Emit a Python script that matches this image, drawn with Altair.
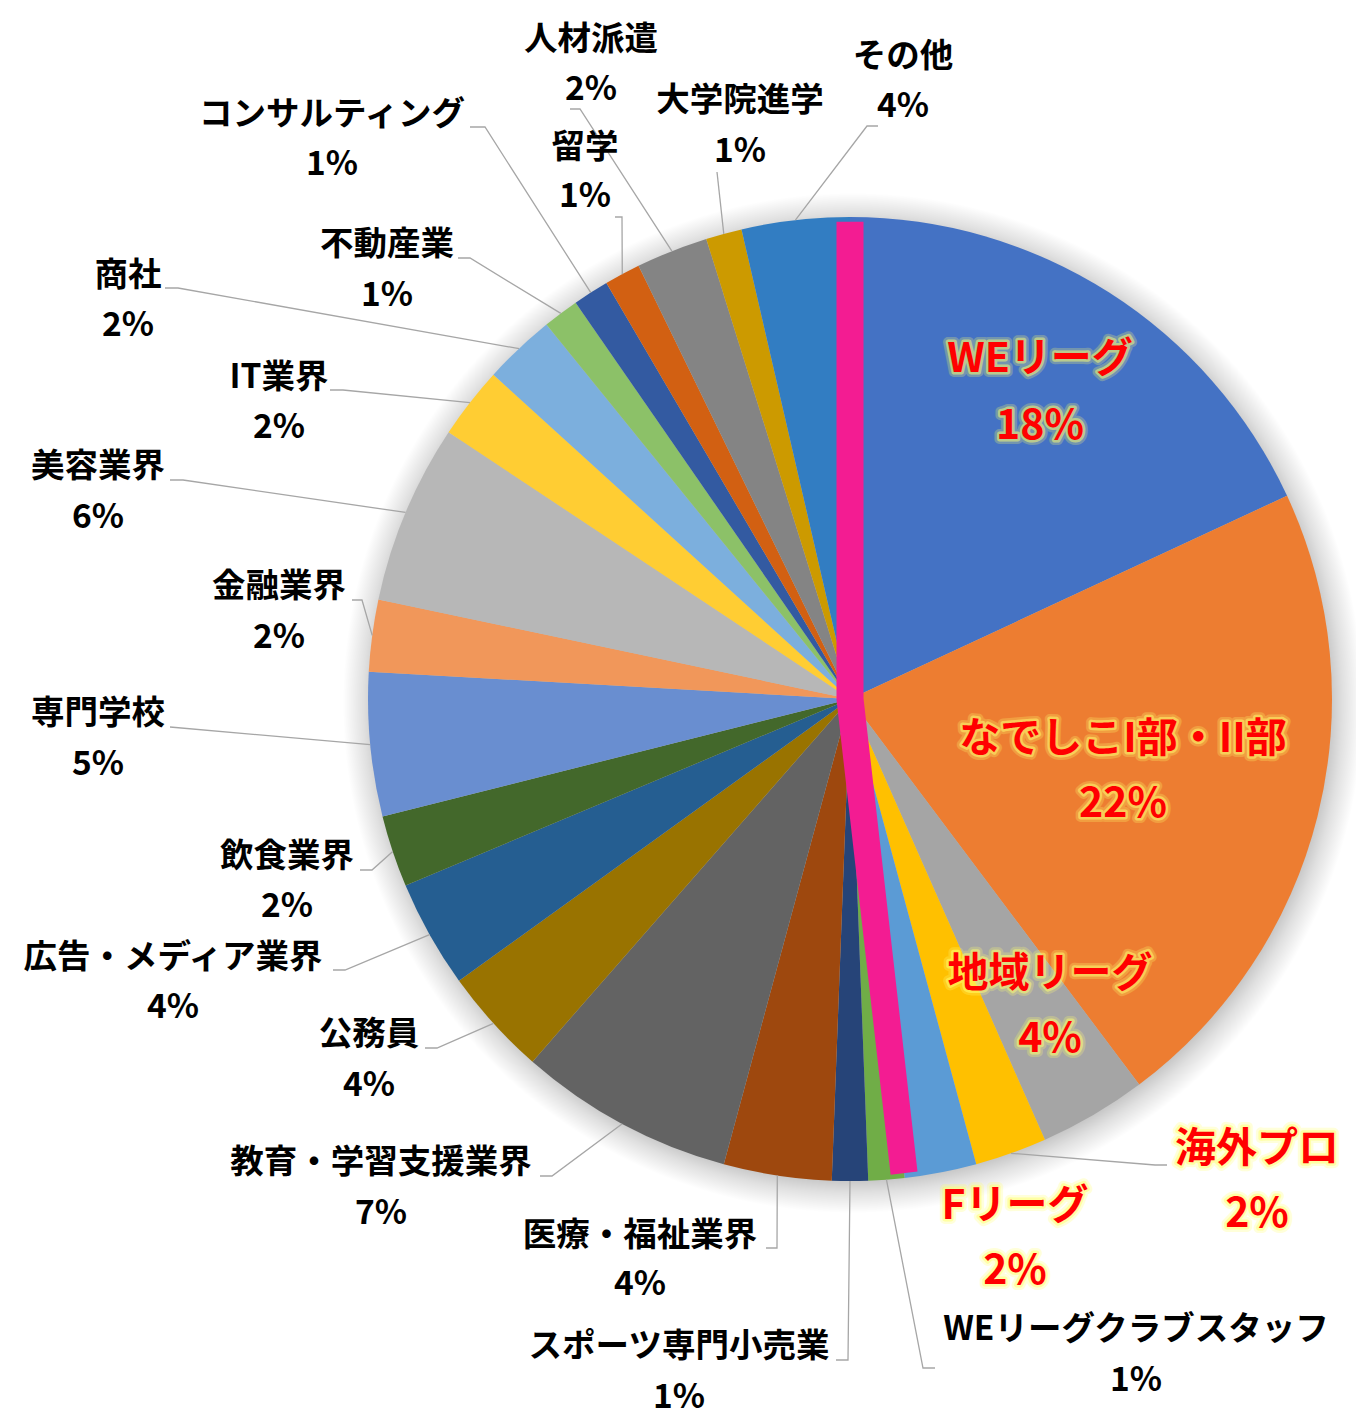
import math
import altair as alt
import pandas as pd

# ---- data: career paths (number of people) in clockwise order from 12 o'clock ----
categories = [
    "WEリーグ", "なでしこI部・II部", "地域リーグ", "海外プロ", "Fリーグ",
    "WEリーグクラブスタッフ", "スポーツ専門小売業", "医療・福祉業界", "教育・学習支援業界",
    "公務員", "広告・メディア業界", "飲食業界", "専門学校", "金融業界", "美容業界",
    "IT業界", "商社", "不動産業", "コンサルティング", "留学", "人材派遣", "大学院進学", "その他",
]
counts = [15, 18, 3, 2, 2, 1, 1, 3, 6, 3, 3, 2, 4, 2, 5, 2, 2, 1, 1, 1, 2, 1, 3]
colors = [
    "#4472C4", "#ED7D31", "#A5A5A5", "#FFC000", "#5B9BD5", "#70AD47",
    "#264478", "#9E480E", "#636363", "#997300", "#255E91", "#43682B",
    "#698ED0", "#F1975A", "#B7B7B7", "#FFCD33", "#7CAFDD", "#8CC168",
    "#335AA1", "#D26012", "#848484", "#CC9A00", "#327DC2",
]
# categories whose labels are emphasised in red
highlighted = ["WEリーグ", "なでしこI部・II部", "地域リーグ", "海外プロ", "Fリーグ"]
# the magenta divider runs from 12 o'clock to the end of this slice
divider_after = "Fリーグ"

# ---- layout (canvas pixels) ----
CX, CY, R = 850, 699, 482
W = H = 2 * R
PAD = {"left": CX - R, "top": CY - R, "right": 1356 - (CX + R), "bottom": 1425 - (CY + R)}
FONT = "Noto Sans CJK JP"

# label placement: name centre x, name y, percent y, leader-line bends
label_layout = {
    "WEリーグ": (1040, 360, 427, []),
    "なでしこI部・II部": (1123, 740, 805, []),
    "地域リーグ": (1050, 975, 1040, []),
    "海外プロ": (1257, 1150, 1215, [(1167, 1165), (1155, 1165)]),
    "Fリーグ": (1015, 1207, 1272, []),
    "WEリーグクラブスタッフ": (1136, 1330, 1381, [(935, 1368), (923, 1368)]),
    "スポーツ専門小売業": (679, 1347, 1398, [(836, 1360), (848, 1360)]),
    "医療・福祉業界": (640, 1236, 1285, [(766, 1248), (777, 1248)]),
    "教育・学習支援業界": (381, 1163, 1214, [(540, 1176), (552, 1176)]),
    "公務員": (369, 1035, 1086, [(425, 1048), (437, 1048)]),
    "広告・メディア業界": (173, 958, 1008, [(333, 970), (345, 970)]),
    "飲食業界": (287, 857, 907, [(360, 870), (372, 870)]),
    "専門学校": (98, 714, 765, [(170, 727)]),
    "金融業界": (279, 587, 638, [(352, 600), (362, 600)]),
    "美容業界": (98, 467, 518, [(170, 480), (183, 480)]),
    "IT業界": (279, 378, 428, [(330, 390), (343, 390)]),
    "商社": (128, 276, 326, [(165, 288), (178, 288)]),
    "不動産業": (387, 245, 296, [(458, 258), (470, 258)]),
    "コンサルティング": (332, 115, 165, [(470, 127), (485, 127)]),
    "留学": (585, 148, 197, [(615, 217), (622, 217)]),
    "人材派遣": (591, 40, 90, [(570, 109), (580, 109)]),
    "大学院進学": (740, 101, 152, [(717, 172)]),
    "その他": (903, 57, 107, [(878, 126), (867, 126)]),
}

total = sum(counts)


def edge_point(angle, radius=R):
    return CX + radius * math.sin(angle), CY - radius * math.cos(angle)


pie_df = pd.DataFrame({"category": categories, "count": counts, "idx": range(len(categories))})

# slice mid-angles for leader lines, and text rows
leader_rows, name_rows, pct_rows = [], [], []
cum = 0
for cat, c in zip(categories, counts):
    mid = (cum + c / 2) / total * 2 * math.pi
    cum += c
    lx, ny, py, bends = label_layout[cat]
    pct = f"{c / total:.0%}"
    kind = "red" if cat in highlighted else "black"
    name_rows.append({"x": lx, "y": ny, "text": cat, "kind": kind})
    pct_rows.append({"x": lx, "y": py, "text": pct, "kind": kind})
    if bends:
        pts = list(bends) + [edge_point(mid)]
        for i, (x, y) in enumerate(pts):
            leader_rows.append({"label": cat, "i": i, "x": x, "y": y})

text_df = pd.DataFrame(name_rows + pct_rows)
leader_df = pd.DataFrame(leader_rows)

# divider: top edge -> centre -> boundary after the divider slice
split = sum(counts[: categories.index(divider_after) + 1]) / total * 2 * math.pi
r_div = R * 0.99
p_top = edge_point(0, r_div)
p_bot = edge_point(split, r_div)
divider_df = pd.DataFrame({
    "i": [0, 1, 2],
    "x": [p_top[0], CX, p_bot[0]],
    "y": [p_top[1], CY, p_bot[1]],
})

xs = alt.Scale(domain=[CX - R, CX + R], nice=False, zero=False)
ys = alt.Scale(domain=[CY - R, CY + R], nice=False, zero=False, reverse=True)
X = lambda: alt.X("x:Q", scale=xs, axis=None)
Y = lambda: alt.Y("y:Q", scale=ys, axis=None)

# soft shadow around the pie
sh_r = R + 28
inner = R / sh_r
shadow = alt.Chart(pd.DataFrame({"k": [0]})).mark_arc(
    theta=0, theta2=2 * math.pi, outerRadius=sh_r, xOffset=3, yOffset=4,
    fill={
        "gradient": "radial",
        "x1": 0.5, "y1": 0.5, "r1": 0, "x2": 0.5, "y2": 0.5, "r2": 0.5,
        "stops": [
            {"offset": 0, "color": "rgba(0,0,0,0.26)"},
            {"offset": inner - 0.02, "color": "rgba(0,0,0,0.26)"},
            {"offset": inner + 0.015, "color": "rgba(0,0,0,0.12)"},
            {"offset": 1, "color": "rgba(0,0,0,0)"},
        ],
    },
).encode(opacity=alt.value(1))

pie = alt.Chart(pie_df).mark_arc(outerRadius=R).encode(
    theta=alt.Theta("count:Q", stack=True),
    color=alt.Color("category:N", scale=alt.Scale(domain=categories, range=colors), legend=None),
    order=alt.Order("idx:Q"),
)

divider = alt.Chart(divider_df).mark_line(
    color="#F31C92", strokeWidth=27, strokeCap="butt", strokeJoin="miter"
).encode(x=X(), y=Y(), order="i:Q")

leaders = alt.Chart(leader_df).mark_line(color="#A6A6A6", strokeWidth=1.3).encode(
    x=X(), y=Y(), detail="label:N", order="i:Q"
)

black_text = alt.Chart(text_df).transform_filter(alt.datum.kind == "black").mark_text(
    font=FONT, fontSize=33.5, fontWeight="bold", color="#000000", align="center", baseline="middle"
).encode(x=X(), y=Y(), text="text:N")

red_base = alt.Chart(text_df).transform_filter(alt.datum.kind == "red")
red_kw = dict(font=FONT, fontSize=41, fontWeight="bold", align="center", baseline="middle")
glow_wide = red_base.mark_text(
    fill="#FFFF70", stroke="#FFFF70", strokeWidth=10, strokeJoin="round", opacity=0.25, **red_kw
).encode(x=X(), y=Y(), text="text:N")
glow_narrow = red_base.mark_text(
    fill="#FFFF70", stroke="#FFFF70", strokeWidth=5, strokeJoin="round", opacity=0.5, **red_kw
).encode(x=X(), y=Y(), text="text:N")
red_text = red_base.mark_text(fill="#FF0000", **red_kw).encode(x=X(), y=Y(), text="text:N")

chart = alt.layer(
    shadow, pie, divider, leaders, black_text, glow_wide, glow_narrow, red_text
).properties(
    width=W, height=H, padding=PAD, background="white",
    autosize=alt.AutoSizeParams(type="none"),
).configure_view(strokeWidth=0)

chart.save("out.html", embed_options={"renderer": "svg", "actions": False})
